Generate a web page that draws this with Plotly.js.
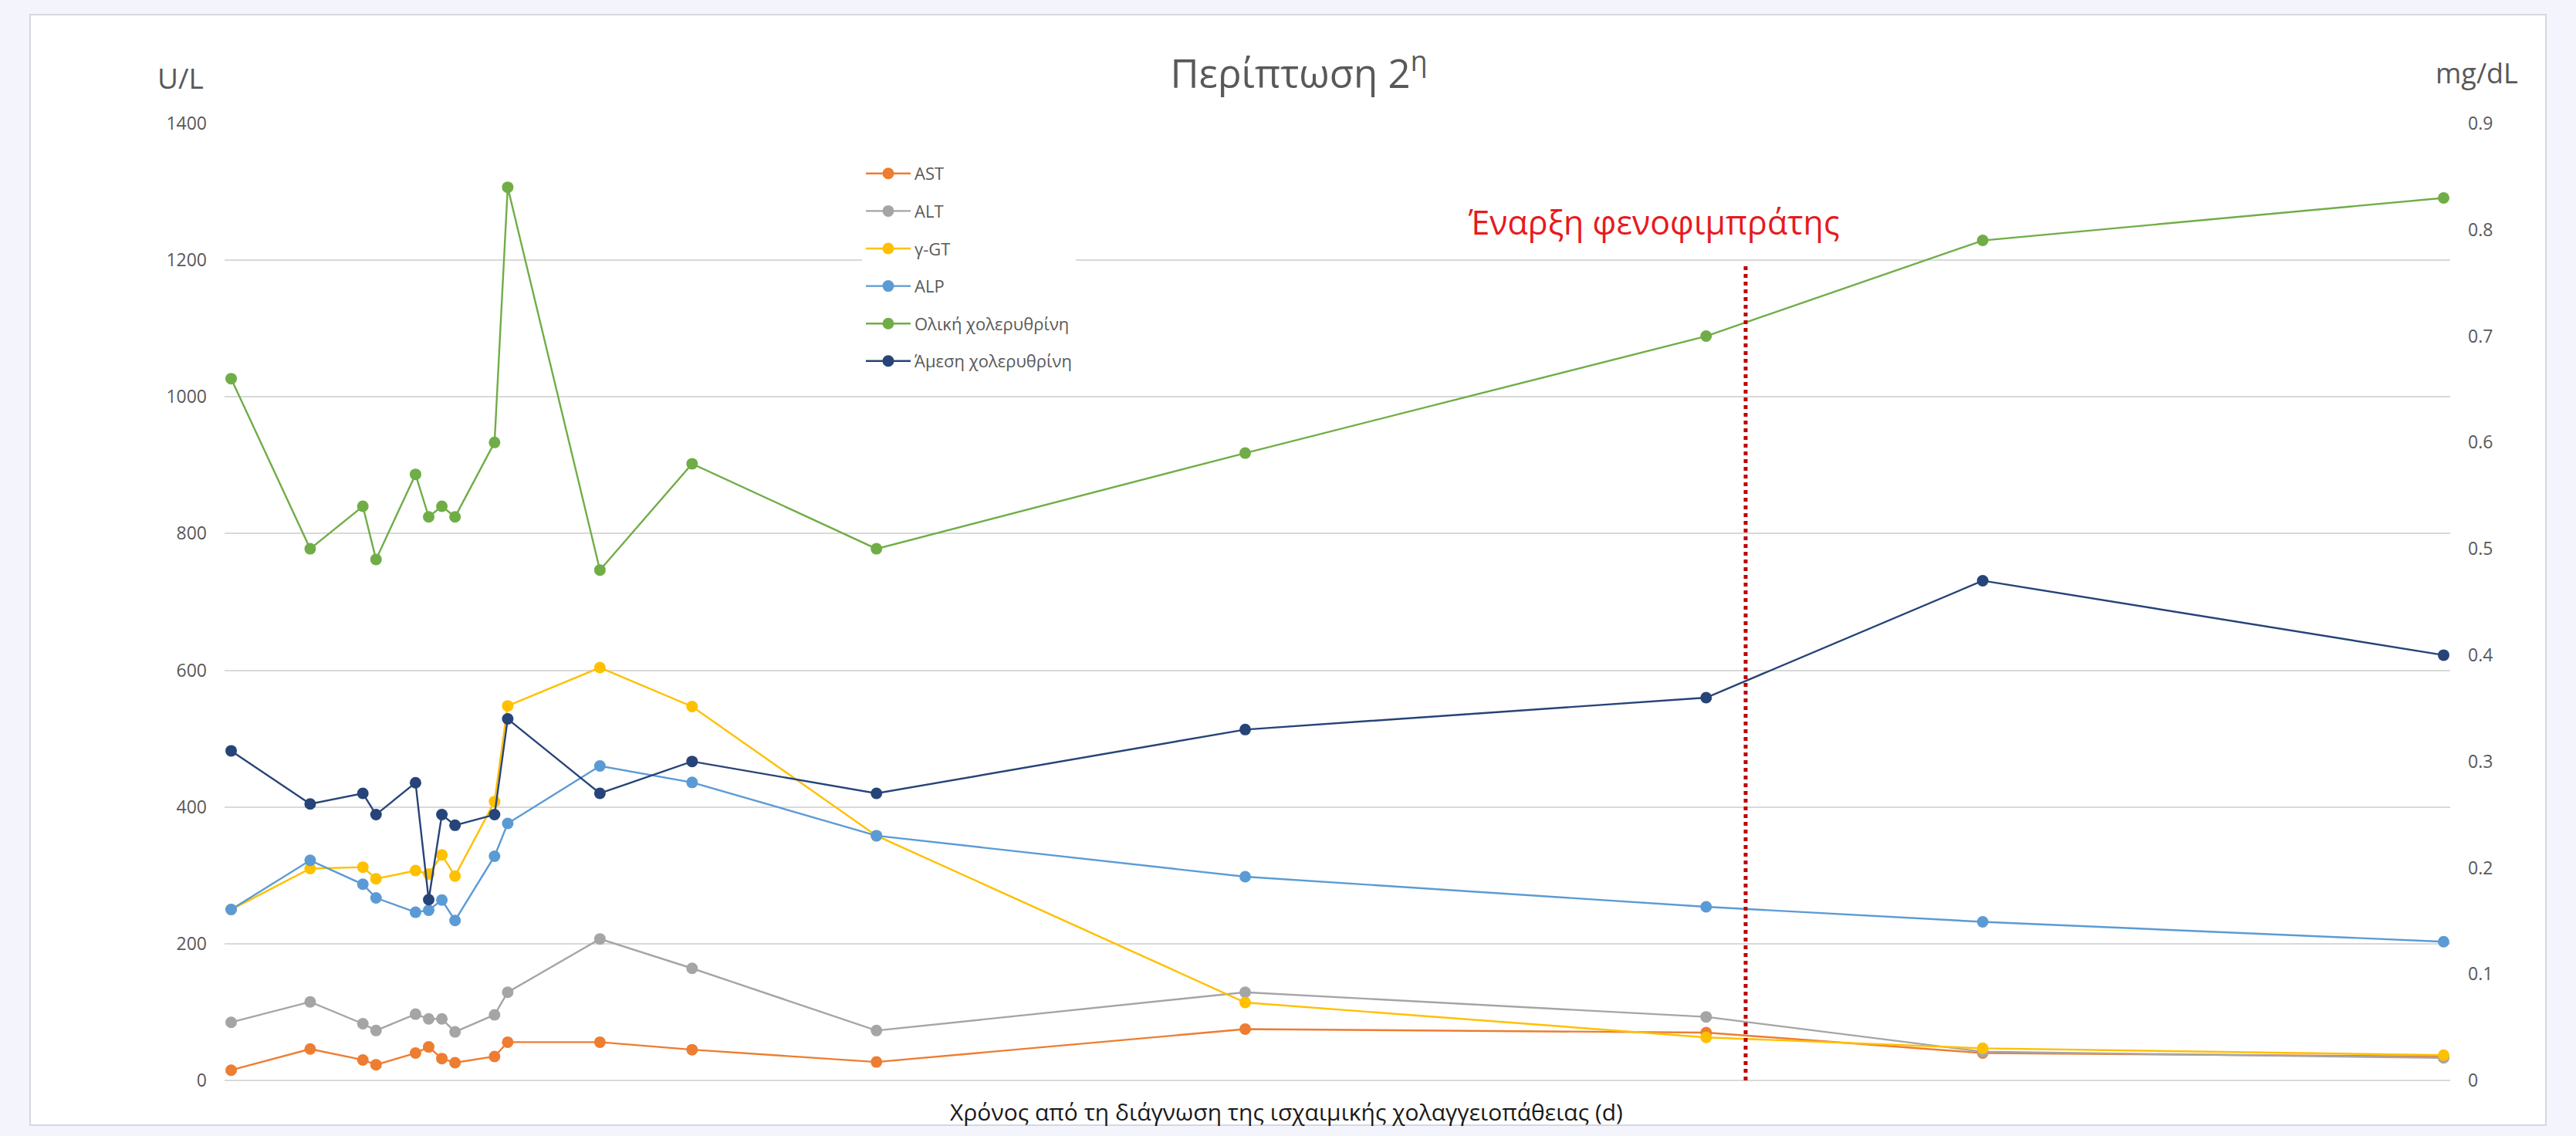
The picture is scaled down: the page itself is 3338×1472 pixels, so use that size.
<!DOCTYPE html>
<html>
<head>
<meta charset="utf-8">
<script src="https://cdn.plot.ly/plotly-3.0.1.min.js"></script>
<style>
html,body{margin:0;padding:0;background:#f3f4fc;}
#chart{width:3338px;height:1472px;}
</style>
</head>
<body>
<div id="chart"></div>
<script>
// Days since diagnosis (estimated from point spacing)
const days = [0, 6, 10, 11, 14, 15, 16, 17, 20, 21, 28, 35, 49, 77, 112, 133, 168];
// U/L (left axis)
const ast = [15, 46, 30, 23, 40, 49, 32, 26, 35, 56, 56, 45, 27, 75, 70, 40, 35];
const alt = [85, 115, 83, 73, 97, 90, 90, 71, 96, 129, 207, 164, 73, 129, 93, 42, 33];
const ggt = [250, 310, 312, 295, 307, 302, 330, 299, 408, 548, 604, 547, 358, 114, 63, 47, 37];
const alp = [250, 322, 287, 267, 246, 249, 264, 234, 328, 376, 460, 436, 358, 298, 254, 232, 203];
// mg/dL (right axis)
const tbil = [0.66, 0.50, 0.54, 0.49, 0.57, 0.53, 0.54, 0.53, 0.60, 0.84, 0.48, 0.58, 0.50, 0.59, 0.70, 0.79, 0.83];
const dbil = [0.31, 0.26, 0.27, 0.25, 0.28, 0.17, 0.25, 0.24, 0.25, 0.34, 0.27, 0.30, 0.27, 0.33, 0.36, 0.47, 0.40];

const seriesNames = ['AST', 'ALT', 'γ-GT', 'ALP', 'Ολική χολερυθρίνη', 'Άμεση χολερυθρίνη'];
const seriesColors = ['#ED7D31', '#A5A5A5', '#FFC000', '#5B9BD5', '#70AD47', '#264478'];
const seriesData = [ast, alt, ggt, alp, tbil, dbil];
const seriesAxis = ['y', 'y', 'y', 'y', 'y2', 'y2'];

const fenofibrateStartDay = 115;
const fenofibrateLineTop = 1195;
const fenofibrateLabel = 'Έναρξη φενοφιμπράτης';

const FONT = '"Open Sans", "Noto Sans", sans-serif';
const W = 3338, H = 1472;
const L = 291, R = 3175, T = 160, B = 1400;
const px2paperX = p => (p - L) / (R - L);
const px2paperY = p => (B - p) / (B - T);

const traces = seriesNames.map((n, i) => ({
  type: 'scatter',
  mode: 'lines+markers',
  name: n,
  x: days,
  y: seriesData[i],
  yaxis: seriesAxis[i],
  legendgroup: 'g' + i,
  line: {color: seriesColors[i], width: 2.4},
  marker: {color: seriesColors[i], size: 15},
  hoverinfo: 'x+y+name'
}));

const layout = {
  width: W, height: H,
  margin: {l: L, r: W - R, t: T, b: H - B},
  paper_bgcolor: '#f3f4fc',
  plot_bgcolor: 'rgba(0,0,0,0)',
  font: {family: FONT, color: '#595959'},
  title: {
    text: 'Περίπτωση 2<sup>η</sup>',
    font: {family: FONT, size: 51, color: '#595959'},
    xref: 'container', yref: 'container',
    x: 1683 / W, xanchor: 'center',
    y: 1 - 96 / H, yanchor: 'middle'
  },
  showlegend: true,
  legend: {
    x: px2paperX(1117), xanchor: 'left',
    y: px2paperY(204), yanchor: 'top',
    bgcolor: '#ffffff',
    font: {family: FONT, size: 22, color: '#595959'},
    traceorder: 'grouped',
    tracegroupgap: 17,
    itemwidth: 58
  },
  xaxis: {
    range: [-0.5, 168.5],
    showgrid: false, zeroline: false, showline: false,
    showticklabels: false, ticks: ''
  },
  yaxis: {
    range: [0, 1400], dtick: 200, tick0: 0,
    showgrid: true, gridcolor: '#d9d9d9', gridwidth: 2,
    zeroline: true, zerolinecolor: '#d9d9d9', zerolinewidth: 2,
    showline: false, ticks: '',
    ticklabelstandoff: 22,
    tickfont: {family: FONT, size: 23, color: '#595959'}
  },
  yaxis2: {
    overlaying: 'y', side: 'right',
    range: [0, 0.9], dtick: 0.1, tick0: 0,
    showgrid: false, zeroline: false, showline: false, ticks: '',
    ticklabelstandoff: 22,
    tickfont: {family: FONT, size: 23, color: '#595959'}
  },
  shapes: [
    {
      type: 'rect', xref: 'paper', yref: 'paper', layer: 'below',
      x0: px2paperX(39), x1: px2paperX(3299),
      y0: px2paperY(1458), y1: px2paperY(19),
      fillcolor: '#ffffff', line: {color: '#d6d7de', width: 2}
    },
    {
      type: 'line', xref: 'x', yref: 'y',
      x0: fenofibrateStartDay, x1: fenofibrateStartDay,
      y0: 0, y1: fenofibrateLineTop,
      line: {color: '#C00000', width: 5, dash: 'dot'}
    }
  ],
  annotations: [
    {
      text: 'U/L', xref: 'paper', yref: 'paper',
      x: px2paperX(266), xanchor: 'right',
      y: px2paperY(100), yanchor: 'middle',
      showarrow: false, font: {family: FONT, size: 37, color: '#595959'}
    },
    {
      text: 'mg/dL', xref: 'paper', yref: 'paper',
      x: px2paperX(3209), xanchor: 'center',
      y: px2paperY(95), yanchor: 'middle',
      showarrow: false, font: {family: FONT, size: 36, color: '#595959'}
    },
    {
      text: 'Χρόνος από τη διάγνωση της ισχαιμικής χολαγγειοπάθειας (d)',
      xref: 'paper', yref: 'paper',
      x: px2paperX(1667), xanchor: 'center',
      y: px2paperY(1441), yanchor: 'middle',
      showarrow: false, font: {family: FONT, size: 30, color: '#1a1a1a'}
    },
    {
      text: fenofibrateLabel, xref: 'x', yref: 'paper',
      x: 108, xanchor: 'center',
      y: px2paperY(287), yanchor: 'middle',
      showarrow: false, font: {family: FONT, size: 43, color: '#E8191D'}
    }
  ]
};

Plotly.newPlot('chart', traces, layout, {displayModeBar: false, responsive: false});
</script>
</body>
</html>
